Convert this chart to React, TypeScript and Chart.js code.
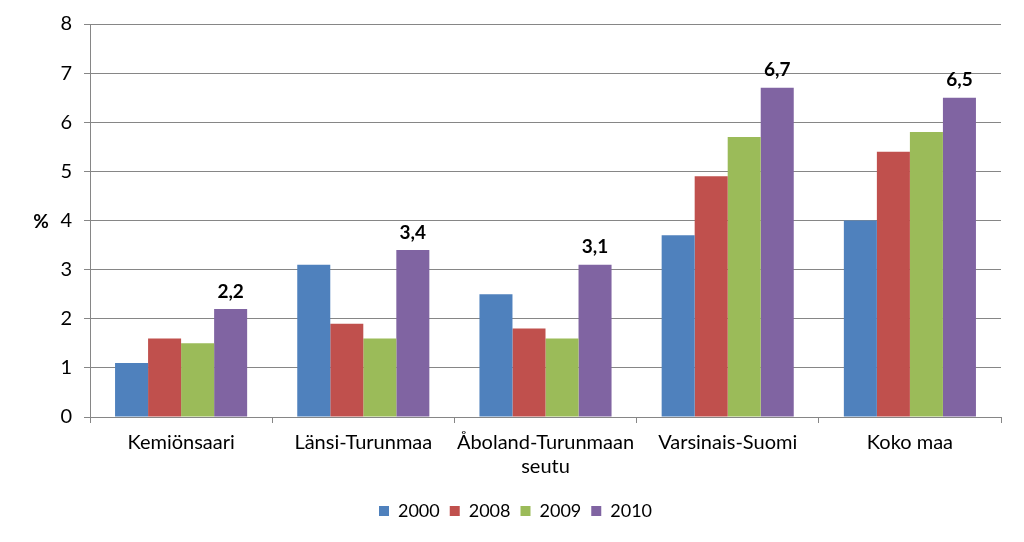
import React, { useEffect, useRef } from "react";
import { Chart, registerables } from "chart.js";

Chart.register(...registerables);

const categories: (string | string[])[] = [
  "Kemiönsaari",
  "Länsi-Turunmaa",
  ["Åboland-Turunmaan", "seutu"],
  "Varsinais-Suomi",
  "Koko maa",
];
const seriesNames = ["2000", "2008", "2009", "2010"];
const values2000 = [1.1, 3.1, 2.5, 3.7, 4.0];
const values2008 = [1.6, 1.9, 1.8, 4.9, 5.4];
const values2009 = [1.5, 1.6, 1.6, 5.7, 5.8];
const values2010 = [2.2, 3.4, 3.1, 6.7, 6.5];
const colors = ["#4F81BD", "#C0504D", "#9BBB59", "#8064A2"];
const yTicks = [0, 1, 2, 3, 4, 5, 6, 7, 8];
const yTitle = "%";

const FONT = "Lato, 'Open Sans', sans-serif";

const labelPlugin = {
  id: "labels2010",
  afterLayout(chart: any) {
    if (chart.legend) {
      chart.legend.left += 15;
      chart.legend.right += 15;
    }
  },
  afterDatasetsDraw(chart: any) {
    const ctx = chart.ctx;
    const meta = chart.getDatasetMeta(3);
    ctx.save();
    ctx.font = `bold 19px ${FONT}`;
    ctx.fillStyle = "#000";
    ctx.textAlign = "center";
    ctx.textBaseline = "bottom";
    meta.data.forEach((bar: any, i: number) => {
      const v = values2010[i];
      ctx.fillText(v.toFixed(1).replace(".", ","), bar.x, bar.y - 8);
    });
    // axis title "%"
    ctx.font = `bold 19px ${FONT}`;
    ctx.textBaseline = "middle";
    ctx.fillText(yTitle, 41, 222);
    ctx.restore();
  },
};

export default function App() {
  const ref = useRef<HTMLCanvasElement>(null);
  useEffect(() => {
    document.body.style.margin = "0";
    const datasets = [values2000, values2008, values2009, values2010].map((d, i) => ({
      label: seriesNames[i],
      data: d,
      backgroundColor: colors[i],
      borderWidth: 0,
      categoryPercentage: 0.725,
      barPercentage: 1.0,
    }));
    const chart = new Chart(ref.current!, {
      type: "bar",
      data: { labels: categories as any, datasets },
      plugins: [labelPlugin],
      options: {
        animation: false,
        responsive: false,
        layout: { padding: { top: 8, right: 23, bottom: 12, left: 0 } },
        plugins: {
          legend: {
            position: "bottom",
            labels: {
              boxWidth: 10,
              boxHeight: 10,
              padding: 10,
              color: "#000",
              font: { family: FONT, size: 18 },
            },
          },
          tooltip: { enabled: false },
        },
        scales: {
          x: {
            grid: {
              offset: true,
              drawOnChartArea: false,
              drawTicks: true,
              tickLength: 6,
              color: "#868686",
            },
            border: { color: "#868686", width: 1 },
            ticks: {
              color: "#000",
              font: { family: FONT, size: 20 },
              padding: 8,
              maxRotation: 0,
              autoSkip: false,
            },
            afterFit: (s: any) => {
              s.height = 75;
            },
          },
          y: {
            min: 0,
            max: 8,
            afterBuildTicks: (s: any) => {
              s.ticks = yTicks.map((v) => ({ value: v }));
            },
            grid: { color: "#868686", tickLength: 6, drawTicks: true },
            border: { color: "#868686", width: 1 },
            ticks: {
              color: "#000",
              font: { family: FONT, size: 20 },
              padding: 12,
            },
            afterFit: (s: any) => {
              s.width = 90;
            },
          },
        },
      },
    });
    return () => chart.destroy();
  }, []);
  return (
    <div style={{ position: "relative", width: 1024, height: 542 }}>
      <canvas ref={ref} width={1024} height={542} />
    </div>
  );
}
